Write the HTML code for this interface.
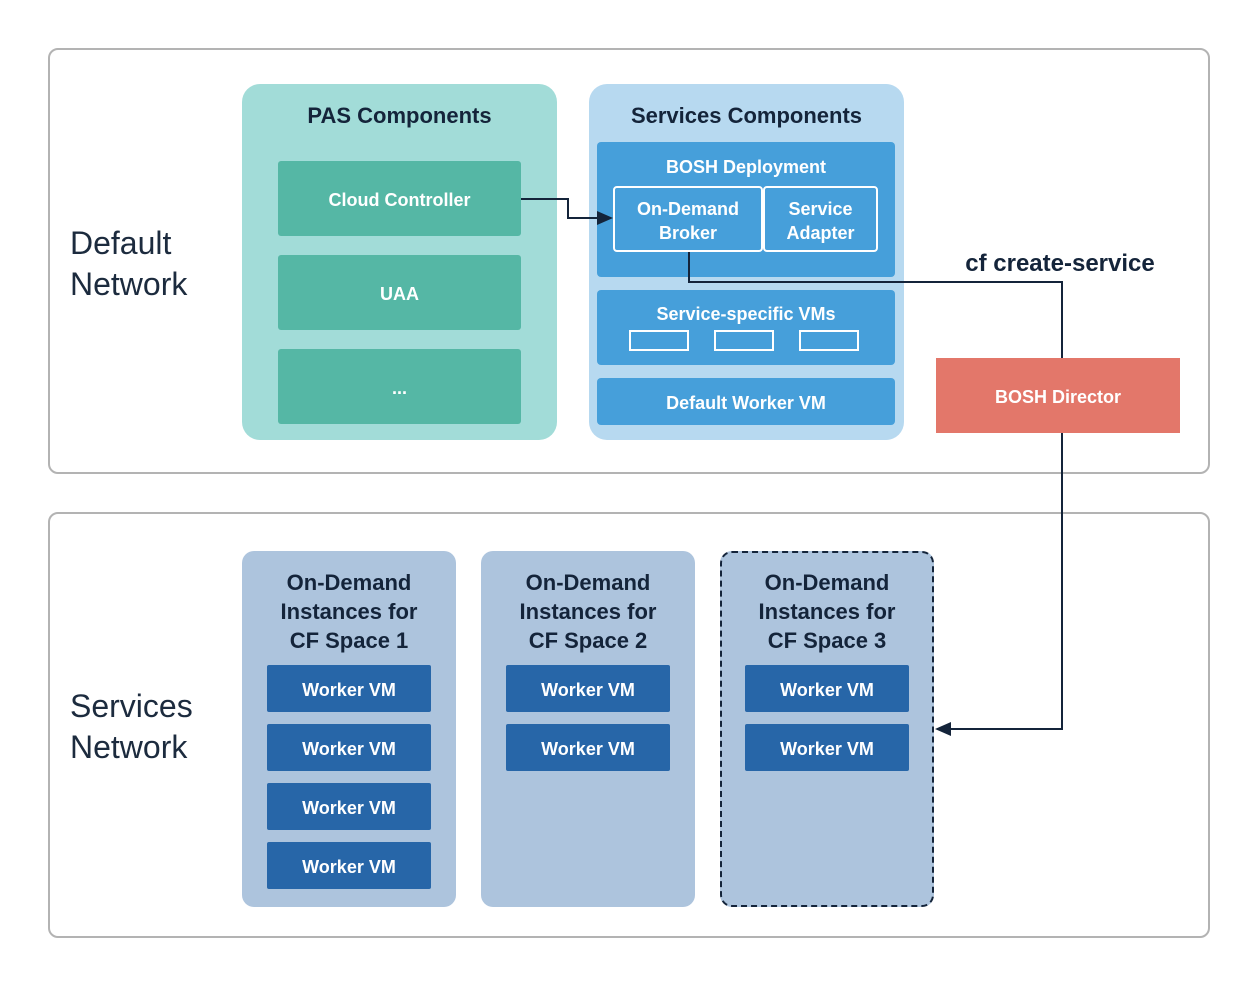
<!DOCTYPE html>
<html><head><meta charset="utf-8"><style>
*{margin:0;padding:0;box-sizing:border-box}
body{width:1258px;height:986px;background:#fff;position:relative;font-family:"Liberation Sans",sans-serif;overflow:hidden}
.a{position:absolute}
.c{display:flex;align-items:center;justify-content:center;text-align:center;color:#fff;font-weight:bold;padding-top:3px}
.net{border:2px solid #b3b3b3;border-radius:10px}
.lbl{font-size:32px;color:#1c2b3e;line-height:41px}
.t{color:#14243a;font-weight:bold;text-align:center}
.g{background:#55b7a5;border-radius:3px;font-size:18px}
.b{background:#469fda;border-radius:4px}
.w{background:#2766a8;border-radius:2px;font-size:18px}
.col{background:#adc4dd;border-radius:12px}
.ct{font-size:22px;line-height:29px}
</style></head><body>
<div class="a net" style="left:48px;top:48px;width:1162px;height:426px"></div>
<div class="a net" style="left:48px;top:512px;width:1162px;height:426px"></div>
<div class="a lbl" style="left:70px;top:223px">Default<br>Network</div>
<div class="a lbl" style="left:70px;top:686px">Services<br>Network</div>

<div class="a" style="left:242px;top:84px;width:315px;height:356px;background:#a2dcd8;border-radius:18px"></div>
<div class="a t" style="left:242px;top:103px;width:315px;font-size:22px">PAS Components</div>
<div class="a c g" style="left:278px;top:161px;width:243px;height:75px">Cloud Controller</div>
<div class="a c g" style="left:278px;top:255px;width:243px;height:75px">UAA</div>
<div class="a c g" style="left:278px;top:349px;width:243px;height:75px">...</div>

<div class="a" style="left:589px;top:84px;width:315px;height:356px;background:#b7d9f0;border-radius:18px"></div>
<div class="a t" style="left:589px;top:103px;width:315px;font-size:22px">Services Components</div>
<div class="a b" style="left:597px;top:142px;width:298px;height:135px"></div>
<div class="a c" style="left:597px;top:154px;width:298px;font-size:18px">BOSH Deployment</div>
<div class="a c" style="left:613px;top:186px;width:150px;height:66px;border:2px solid #fff;border-radius:4px;font-size:18px;line-height:24px">On-Demand<br>Broker</div>
<div class="a c" style="left:763px;top:186px;width:115px;height:66px;border:2px solid #fff;border-radius:4px;font-size:18px;line-height:24px">Service<br>Adapter</div>
<div class="a b" style="left:597px;top:290px;width:298px;height:75px"></div>
<div class="a c" style="left:597px;top:301px;width:298px;font-size:18px">Service-specific VMs</div>
<div class="a" style="left:629px;top:330px;width:60px;height:21px;border:2px solid #fff"></div>
<div class="a" style="left:714px;top:330px;width:60px;height:21px;border:2px solid #fff"></div>
<div class="a" style="left:799px;top:330px;width:60px;height:21px;border:2px solid #fff"></div>
<div class="a c b" style="left:597px;top:378px;width:298px;height:47px;font-size:18px">Default Worker VM</div>

<div class="a c" style="left:936px;top:358px;width:244px;height:75px;background:#e3776a;font-size:18px">BOSH Director</div>
<div class="a t" style="left:940px;top:250px;width:240px;font-size:24px">cf create-service</div>

<div class="a col" style="left:242px;top:551px;width:214px;height:356px"></div>
<div class="a col" style="left:481px;top:551px;width:214px;height:356px"></div>
<div class="a col" style="left:720px;top:551px;width:214px;height:356px;border:2px dashed #14243a"></div>
<div class="a t ct" style="left:242px;top:568px;width:214px">On-Demand<br>Instances for<br>CF Space 1</div>
<div class="a t ct" style="left:481px;top:568px;width:214px">On-Demand<br>Instances for<br>CF Space 2</div>
<div class="a t ct" style="left:720px;top:568px;width:214px">On-Demand<br>Instances for<br>CF Space 3</div>

<div class="a c w" style="left:267px;top:665px;width:164px;height:47px">Worker VM</div>
<div class="a c w" style="left:267px;top:724px;width:164px;height:47px">Worker VM</div>
<div class="a c w" style="left:267px;top:783px;width:164px;height:47px">Worker VM</div>
<div class="a c w" style="left:267px;top:842px;width:164px;height:47px">Worker VM</div>
<div class="a c w" style="left:506px;top:665px;width:164px;height:47px">Worker VM</div>
<div class="a c w" style="left:506px;top:724px;width:164px;height:47px">Worker VM</div>
<div class="a c w" style="left:745px;top:665px;width:164px;height:47px">Worker VM</div>
<div class="a c w" style="left:745px;top:724px;width:164px;height:47px">Worker VM</div>

<svg class="a" style="left:0;top:0" width="1258" height="986">
<g fill="none" stroke="#14243a" stroke-width="2">
<polyline points="521,199 568,199 568,218 598,218"/>
<polyline points="689,252 689,282 1062,282 1062,358"/>
<polyline points="1062,433 1062,729 950,729"/>
</g>
<polygon points="613,218 597,211 597,225" fill="#14243a"/>
<polygon points="935,729 951,722 951,736" fill="#14243a"/>
</svg>
</body></html>
